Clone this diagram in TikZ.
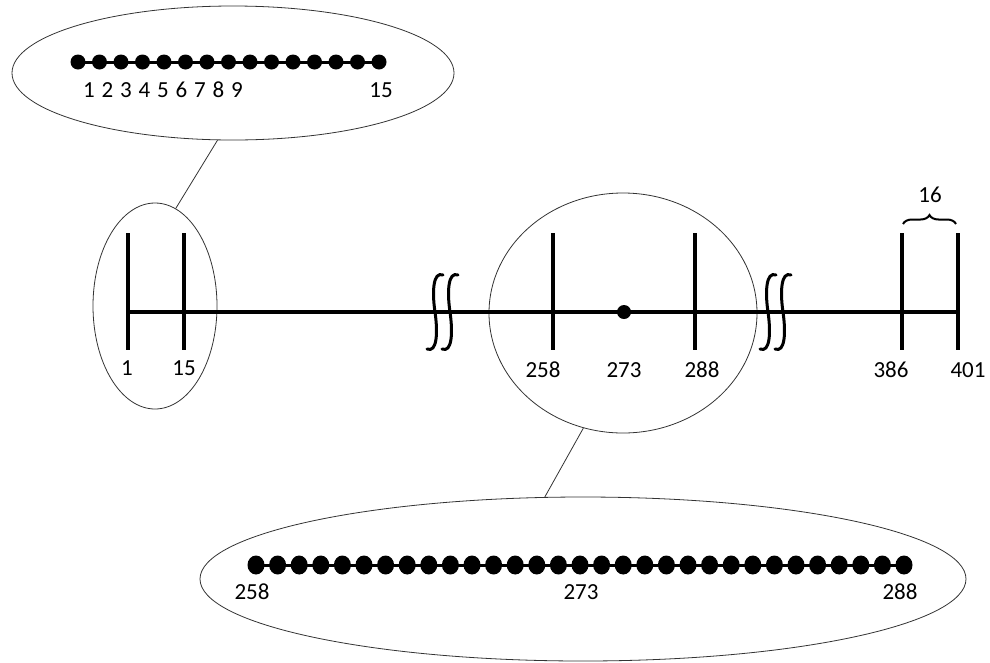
\documentclass[tikz,border=0pt]{standalone}
\usepackage{fontspec}
\setmainfont{Carlito}
\usetikzlibrary{shapes.geometric,decorations.pathreplacing}

\begin{document}
\begin{tikzpicture}[
  x=1pt, y=-1pt,
  font=\fontsize{23}{27}\selectfont,
  axis/.style={draw=black, line width=3.6pt},
  tickmark/.style={draw=black, line width=3.6pt},
  brk/.style={draw=black, line width=3pt, line cap=round},
  zoomring/.style={draw=black!80, line width=0.8pt, ellipse, inner sep=0pt},
  lead/.style={draw=black!80, line width=0.8pt},
  bead/.style={circle, fill=black, inner sep=0pt, minimum size=15pt},
  chain/.style={draw=black, line width=3pt},
  num/.style={inner sep=1pt},
]
\useasboundingbox (0,0) rectangle (990,662);

% ---------- zoom rings ----------
\node[zoomring, minimum width=442pt, minimum height=134pt] (topzoom) at (233,73) {};
\node[zoomring, minimum width=124pt, minimum height=206pt] (leftring) at (155,306) {};
\node[zoomring, minimum width=268pt, minimum height=240pt] (midring) at (623,313) {};
\node[zoomring, minimum width=766pt, minimum height=164pt] (botzoom) at (583,579) {};

\draw[lead] (topzoom.257) -- (leftring.78);
\draw[lead] (midring.251) -- (botzoom.115);

% ---------- main axis ----------
\coordinate (start) at (128,312);
\coordinate (stop) at (958,312);
\draw[axis] (start) -- (stop);

\foreach \x in {128,184,553,695,902,958}
  \draw[tickmark] (\x,233) -- (\x,350);

\node[bead, minimum size=14pt] (centre) at (624,312) {};

\node[num] (l1)   at (127,368) {1};
\node[num] (l15)  at (184,368) {15};
\node[num] (l258) at (543,370) {258};
\node[num] (l273) at (624,370) {273};
\node[num] (l288) at (702,370) {288};
\node[num] (l386) at (891,370) {386};
\node[num] (l401) at (968,370) {401};

% ---------- breaks ----------
\foreach \c in {435,450,768,783}
  \draw[brk] (\c+8,275) .. controls (\c-2,271) and (\c-3,292) .. (\c,312)
             .. controls (\c+3,333) and (\c+2,353) .. (\c-8,349);

% ---------- brace ----------
\draw[line width=2pt, decorate, decoration={brace, amplitude=9pt}]
  (903,224) -- (956,224);
\node[num] (l16) at (930,195) {16};

% ---------- top zoom: 1..15 ----------
\draw[chain] (78,62) -- (379,62);
\foreach \i in {0,...,14}
  \node[bead] (t\i) at (78+\i*21.5,62) {};
\foreach \i in {1,...,9}
  \node[num] (tl\i) at (89+\i*18.5-18.5,90) {\i};
\node[num] (tl15) at (381,90) {15};

% ---------- bottom zoom: 258..288 ----------
\draw[chain] (256,565) -- (904,565);
\foreach \i in {0,...,30}
  \node[bead, ellipse, minimum width=17pt, minimum height=19pt] (b\i) at (256+\i*21.6,565) {};
\node[num] (b258) at (252,592) {258};
\node[num] (b273) at (581,592) {273};
\node[num] (b288) at (900,592) {288};

\end{tikzpicture}
\end{document}
